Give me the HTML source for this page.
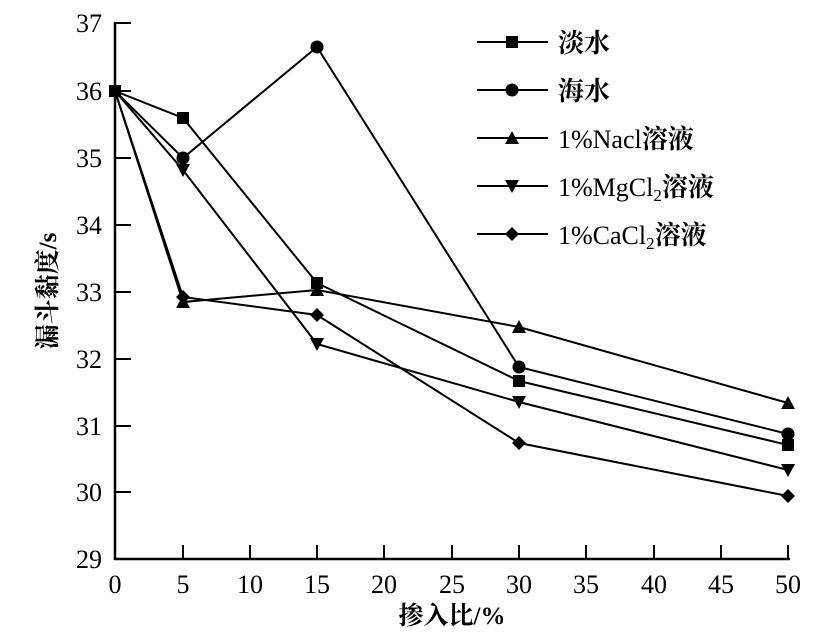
<!DOCTYPE html><html><head><style>body{margin:0;background:#fff}</style></head><body>
<svg width="839" height="635" xmlns="http://www.w3.org/2000/svg" font-family="Liberation Serif, Noto Serif CJK SC, serif" font-weight="bold">
<g stroke="#000" stroke-width="2.5" fill="none">
<line x1="115" y1="22" x2="115" y2="560"/><line x1="114" y1="559" x2="790" y2="559"/>
</g>
<g stroke="#000" stroke-width="2">
<line x1="115" y1="23" x2="131" y2="23"/><line x1="115" y1="91" x2="131" y2="91"/><line x1="115" y1="158" x2="131" y2="158"/><line x1="115" y1="225" x2="131" y2="225"/><line x1="115" y1="292" x2="131" y2="292"/><line x1="115" y1="359" x2="131" y2="359"/><line x1="115" y1="426" x2="131" y2="426"/><line x1="115" y1="492" x2="131" y2="492"/>
<line x1="183" y1="559" x2="183" y2="545"/><line x1="250" y1="559" x2="250" y2="545"/><line x1="317" y1="559" x2="317" y2="545"/><line x1="384" y1="559" x2="384" y2="545"/><line x1="452" y1="559" x2="452" y2="545"/><line x1="519" y1="559" x2="519" y2="545"/><line x1="586" y1="559" x2="586" y2="545"/><line x1="654" y1="559" x2="654" y2="545"/><line x1="721" y1="559" x2="721" y2="545"/><line x1="788" y1="559" x2="788" y2="545"/>
</g>
<g font-size="26" text-anchor="end" font-weight="normal">
<text x="102" y="32">37</text><text x="102" y="100">36</text><text x="102" y="167">35</text><text x="102" y="234">34</text><text x="102" y="301">33</text><text x="102" y="368">32</text><text x="102" y="435">31</text><text x="102" y="501">30</text><text x="102" y="568">29</text>
</g>
<g font-size="26" text-anchor="middle" font-weight="normal">
<text x="115" y="593">0</text><text x="183" y="593">5</text><text x="250" y="593">10</text><text x="317" y="593">15</text><text x="384" y="593">20</text><text x="452" y="593">25</text><text x="519" y="593">30</text><text x="586" y="593">35</text><text x="654" y="593">40</text><text x="721" y="593">45</text><text x="788" y="593">50</text>
</g>
<text x="452" y="624" font-size="25" text-anchor="middle">掺入比/%</text>
<text transform="translate(56,291) rotate(-90)" font-size="25" text-anchor="middle">漏斗黏度/s</text>
<g stroke="#000" stroke-width="2" fill="none">
<polyline points="115,91 183,118 317,283 519,381 788,445"/>
<polyline points="115,91 183,158 317,47 519,367 788,434"/>
<polyline points="115,91 183,302 317,290 519,327 788,403"/>
<polyline points="115,91 183,170 317,344 519,402 788,470"/>
<polyline points="115,91 183,297 317,315 519,443 788,496"/>
<line x1="477" y1="42" x2="548" y2="42"/><line x1="477" y1="90" x2="548" y2="90"/><line x1="477" y1="138" x2="548" y2="138"/><line x1="477" y1="186" x2="548" y2="186"/><line x1="477" y1="234" x2="548" y2="234"/>
</g>
<defs>
<g id="sq"><rect x="-6" y="-6" width="12" height="12"/></g>
<g id="ci"><circle r="6.5"/></g>
<g id="tu"><polygon points="0,-7 7,6 -7,6"/></g>
<g id="td"><polygon points="0,7 7,-6 -7,-6"/></g>
<g id="di"><polygon points="0,-7 7,0 0,7 -7,0"/></g>
</defs>
<g fill="#000">
<use href="#sq" x="115" y="91"/><use href="#sq" x="183" y="118"/><use href="#sq" x="317" y="283"/><use href="#sq" x="519" y="381"/><use href="#sq" x="788" y="445"/>
<use href="#ci" x="183" y="158"/><use href="#ci" x="317" y="47"/><use href="#ci" x="519" y="367"/><use href="#ci" x="788" y="434"/>
<use href="#tu" x="183" y="302"/><use href="#tu" x="317" y="290"/><use href="#tu" x="519" y="327"/><use href="#tu" x="788" y="403"/>
<use href="#td" x="183" y="170"/><use href="#td" x="317" y="344"/><use href="#td" x="519" y="402"/><use href="#td" x="788" y="470"/>
<use href="#di" x="183" y="297"/><use href="#di" x="317" y="315"/><use href="#di" x="519" y="443"/><use href="#di" x="788" y="496"/>
<use href="#sq" x="512" y="42"/><use href="#ci" x="512" y="90"/><use href="#tu" x="512" y="138"/><use href="#td" x="512" y="186"/><use href="#di" x="512" y="234"/>
</g>
<g font-size="26" font-weight="normal">
<text x="558" y="52" font-weight="bold">淡水</text>
<text x="558" y="100" font-weight="bold">海水</text>
<text x="558" y="148">1%Nacl<tspan font-weight="bold">溶液</tspan></text>
<text x="558" y="196">1%MgCl<tspan font-size="17" dy="5">2</tspan><tspan dy="-5" font-weight="bold">溶液</tspan></text>
<text x="558" y="244">1%CaCl<tspan font-size="17" dy="5">2</tspan><tspan dy="-5" font-weight="bold">溶液</tspan></text>
</g>
</svg>
</body></html>
